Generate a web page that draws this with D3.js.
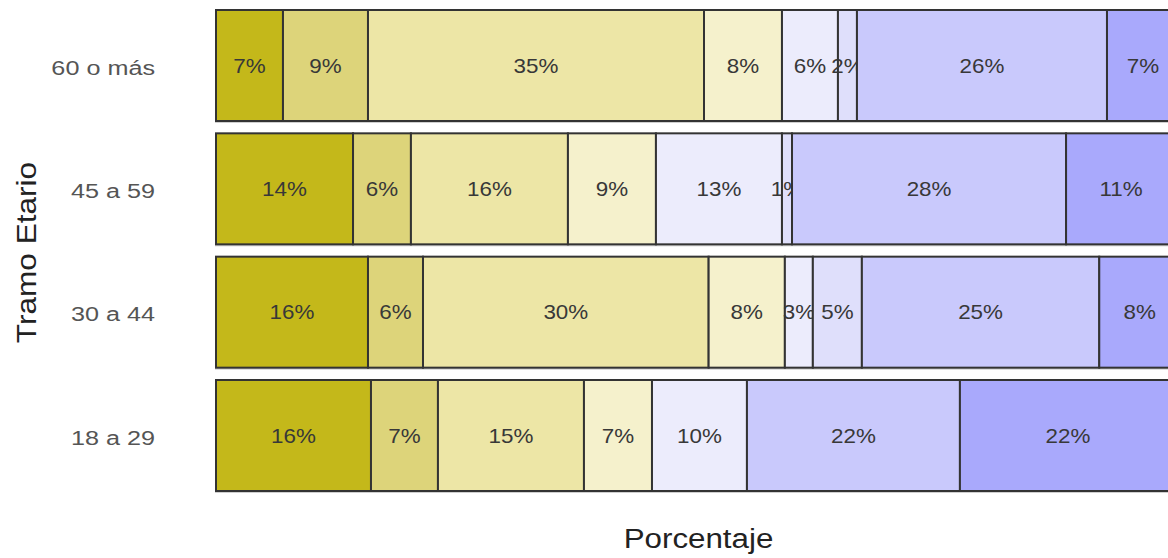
<!DOCTYPE html>
<html>
<head>
<meta charset="utf-8">
<script src="https://cdn.jsdelivr.net/npm/d3@7"></script>
<style>
	body { margin: 0; background: #fff; }
	svg { display: block; font-family: 'Liberation Sans', Arial, sans-serif; }
</style>
</head>
<body>
<div id="chart"></div>
<script>
// age groups, top to bottom
const tramos = ['60 o más', '45 a 59', '30 a 44', '18 a 29'];

// answer levels (left to right) and their fills
const niveles = ['n1', 'n2', 'n3', 'n4', 'n5', 'n6', 'n7', 'n8'];
const colores = ['#c4b81a', '#ddd47a', '#ede6a6', '#f5f1cc', '#ececfc', '#dfdffb', '#c9c9fc', '#a9a9fc'];

// percentages per level, in the order of tramos
const n1 = [6.94, 14.2, 15.75, 16.06];
const n2 = [8.81, 6.0, 5.7, 6.94];
const n3 = [34.82, 16.27, 29.6, 15.13];
const n4 = [8.08, 9.12, 7.9, 7.05];
const n5 = [5.8, 13.06, 2.9, 9.84];
const n6 = [1.97, 1.04, 5.08, 0];
const n7 = [25.91, 28.4, 24.6, 22.07];
const n8 = [7.45, 11.4, 8.4, 22.4];

const series = [n1, n2, n3, n4, n5, n6, n7, n8];

// build rows for d3.stack
const rows = tramos.map((t, i) => {
	const r = { tramo: t };
	niveles.forEach((k, j) => (r[k] = series[j][i]));
	return r;
});

const W = 1168, H = 558;
const margin = { top: 10, right: -13, bottom: 67, left: 216 };

const svg = d3
	.select('#chart')
	.append('svg')
	.attr('width', W)
	.attr('height', H);

const x = d3
	.scaleLinear()
	.domain([0, 100])
	.range([margin.left, W - margin.right]);

const y = d3
	.scaleBand()
	.domain(tramos)
	.range([margin.top, H - margin.bottom])
	.paddingInner(0.1)
	.paddingOuter(0);

const color = d3.scaleOrdinal().domain(niveles).range(colores);

const stacked = d3.stack().keys(niveles)(rows);

// the text in the picture is a bit wider than plain Arial, so stretch it
const wide = (px, py, sx) => `translate(${px},${py}) scale(${sx},1)`;

// faint shadow under each bar
svg
	.append('g')
	.selectAll('rect')
	.data(tramos)
	.join('rect')
	.attr('x', x(0) - 1)
	.attr('y', (d) => y(d) + 2)
	.attr('width', x(100) - x(0))
	.attr('height', y.bandwidth())
	.attr('fill', '#cfcfcf');

const layers = svg
	.selectAll('g.layer')
	.data(stacked)
	.join('g')
	.attr('class', 'layer')
	.attr('fill', (d) => color(d.key));

layers
	.selectAll('rect')
	.data((d) => d.filter((s) => s[1] - s[0] > 0))
	.join('rect')
	.attr('x', (d) => x(d[0]))
	.attr('y', (d) => y(d.data.tramo))
	.attr('width', (d) => x(d[1]) - x(d[0]))
	.attr('height', y.bandwidth())
	.attr('stroke', '#333')
	.attr('stroke-width', 2);

// percentage labels in the middle of each segment
layers
	.selectAll('text')
	.data((d) => d.filter((s) => s[1] - s[0] > 0))
	.join('text')
	.attr('transform', (d) =>
		wide(x((d[0] + d[1]) / 2), y(d.data.tramo) + y.bandwidth() / 2, 1.12)
	)
	.attr('text-anchor', 'middle')
	.attr('dominant-baseline', 'central')
	.attr('fill', '#383838')
	.style('font-size', '20px')
	.text((d) => Math.round(d[1] - d[0]) + '%');

// y axis labels
svg
	.append('g')
	.selectAll('text')
	.data(tramos)
	.join('text')
	.attr('transform', (d) => wide(155, y(d) + y.bandwidth() / 2 + 2, 1.2))
	.attr('text-anchor', 'end')
	.attr('dominant-baseline', 'central')
	.attr('fill', '#555')
	.style('font-size', '21px')
	.text((d) => d);

// axis titles
svg
	.append('text')
	.attr('transform', wide((x(0) + x(100)) / 2, 539, 1.16))
	.attr('text-anchor', 'middle')
	.attr('dominant-baseline', 'central')
	.attr('fill', '#222')
	.style('font-size', '27px')
	.text('Porcentaje');

svg
	.append('text')
	.attr(
		'transform',
		`translate(26,${(margin.top + H - margin.bottom) / 2 + 2}) rotate(-90) scale(1.17,1)`
	)
	.attr('text-anchor', 'middle')
	.attr('dominant-baseline', 'central')
	.attr('fill', '#222')
	.style('font-size', '27px')
	.text('Tramo Etario');
</script>
</body>
</html>
